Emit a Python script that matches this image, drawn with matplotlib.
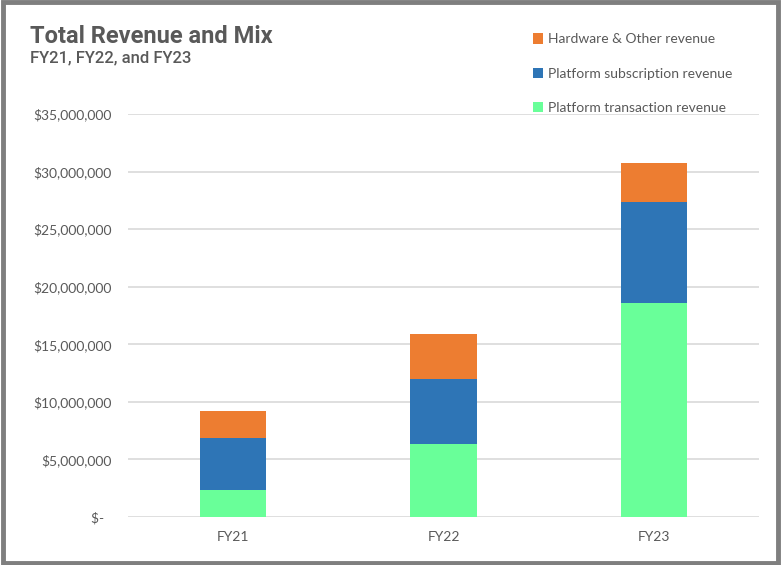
import matplotlib.pyplot as plt
from matplotlib.patches import Rectangle
import numpy as np

years = ['FY21', 'FY22', 'FY23']
transaction = [2.34e6, 6.30e6, 18.61e6]
subscription = [4.53e6, 5.66e6, 8.79e6]
hardware = [2.38e6, 3.90e6, 3.33e6]
yticks = np.arange(0, 35e6 + 1, 5e6)

grey = '#595959'
c_trans = '#69FF99'
c_subs = '#2E75B6'
c_hw = '#ED7D31'

fig = plt.figure(figsize=(7.81, 5.65), dpi=100)
ax = fig.add_axes([0.164, 0.085, 0.808, 0.713])

x = np.arange(len(years))
w = 0.315
b1 = ax.bar(x, transaction, w, color=c_trans, label='Platform transaction revenue', zorder=3)
bottom2 = np.array(transaction)
b2 = ax.bar(x, subscription, w, bottom=bottom2, color=c_subs, label='Platform subscription revenue', zorder=3)
bottom3 = bottom2 + np.array(subscription)
b3 = ax.bar(x, hardware, w, bottom=bottom3, color=c_hw, label='Hardware & Other revenue', zorder=3)

ax.set_xlim(-0.5, 2.5)
ax.set_ylim(0, 35e6)
ax.set_yticks(yticks)
ax.set_yticklabels(['$-  '] + ['${:,.0f}'.format(v) for v in yticks[1:]])
ax.set_xticks(x)
ax.set_xticklabels(years)
ax.grid(axis='y', color='#D9D9D9', linewidth=1.2, zorder=0)
for s in ax.spines.values():
    s.set_visible(False)
ax.tick_params(length=0, colors=grey, labelsize=10)
ax.tick_params(axis='y', pad=12)
ax.tick_params(axis='x', pad=10)
for lbl in ax.get_xticklabels() + ax.get_yticklabels():
    lbl.set_fontfamily('Lato')

fig.text(0.038, 0.935, 'Total Revenue and Mix', fontsize=17, fontweight='bold',
         color=grey, family='Roboto', va='center')
fig.text(0.038, 0.898, 'FY21, FY22, and FY23', fontsize=12, fontweight='medium',
         color=grey, family='Roboto', va='center')

leg = fig.legend([b3, b2, b1], [b3.get_label(), b2.get_label(), b1.get_label()],
                 loc='upper left', bbox_to_anchor=(0.666, 0.963), frameon=False,
                 handlelength=0.75, handleheight=0.75, handletextpad=0.35,
                 labelspacing=1.6, prop={'family': 'Lato', 'size': 10})
for t in leg.get_texts():
    t.set_color(grey)

fig.patches.append(Rectangle((0.0035, 0.004), 0.993, 0.992, transform=fig.transFigure,
                             fill=False, edgecolor='#7F7F7F', linewidth=3.5))

fig.savefig('out.png', dpi=100)
